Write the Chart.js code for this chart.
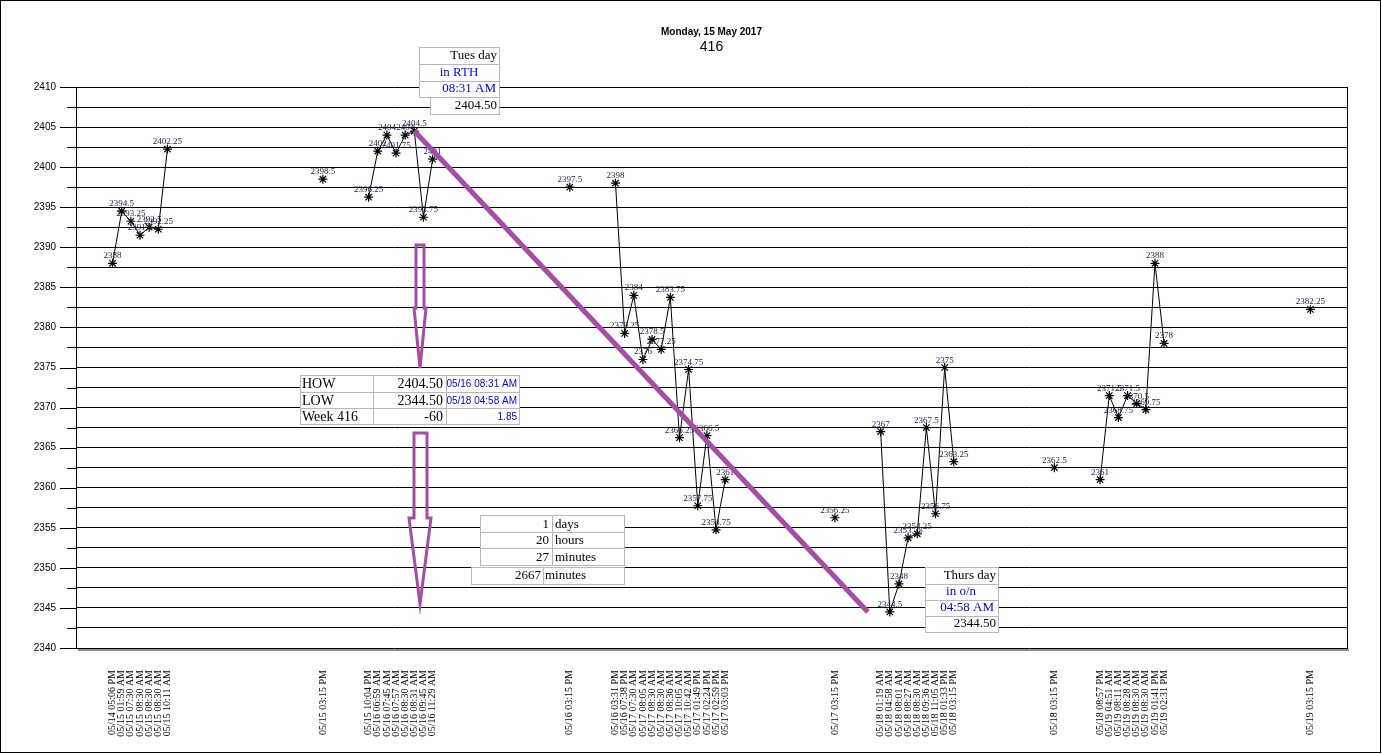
<!DOCTYPE html>
<html>
<head>
<meta charset="utf-8">
<script src="https://cdn.jsdelivr.net/npm/chart.js@4.4.1/dist/chart.umd.min.js"></script>
<style>
html, body { margin: 0; padding: 0; background: #fff; }
canvas { display: block; }
</style>
</head>
<body>
<canvas id="c" width="1382" height="754"></canvas>
<script>
// slot of each point on the x axis (empty slots between the groups)
const slots = [
    4, 5, 6, 7, 8, 9, 10,
    27,
    32, 33, 34, 35, 36, 37, 38, 39,
    54,
    59, 60, 61, 62, 63, 64, 65, 66, 67, 68, 69, 70, 71,
    83,
    88, 89, 90, 91, 92, 93, 94, 95, 96,
    107,
    112, 113, 114, 115, 116, 117, 118, 119,
    135
];

const timeLabels = [
    '05/14 05:06 PM', '05/15 01:59 AM', '05/15 07:30 AM', '05/15 08:30 AM', '05/15 08:30 AM', '05/15 08:30 AM', '05/15 10:11 AM',
    '05/15 03:15 PM',
    '05/15 10:04 PM', '05/16 06:59 AM', '05/16 07:45 AM', '05/16 07:57 AM', '05/16 08:30 AM', '05/16 08:31 AM', '05/16 09:45 AM', '05/16 11:29 AM',
    '05/16 03:15 PM',
    '05/16 03:31 PM', '05/16 07:38 PM', '05/17 07:30 AM', '05/17 08:05 AM', '05/17 08:30 AM', '05/17 08:30 AM', '05/17 08:36 AM',
    '05/17 10:05 AM', '05/17 10:42 AM', '05/17 01:49 PM', '05/17 02:24 PM', '05/17 02:59 PM', '05/17 03:03 PM',
    '05/17 03:15 PM',
    '05/18 01:19 AM', '05/18 04:58 AM', '05/18 08:01 AM', '05/18 08:27 AM', '05/18 08:30 AM', '05/18 09:36 AM', '05/18 11:05 AM', '05/18 01:33 PM', '05/18 03:15 PM',
    '05/18 03:15 PM',
    '05/18 08:57 PM', '05/19 04:51 AM', '05/19 08:11 AM', '05/19 08:28 AM', '05/19 08:30 AM', '05/19 08:30 AM', '05/19 01:41 PM', '05/19 02:31 PM',
    '05/19 03:15 PM'
];

const prices = [
    2388, 2394.5, 2393.25, 2391.5, 2392.5, 2392.25, 2402.25,
    2398.5,
    2396.25, 2402, 2404, 2401.75, 2404, 2404.5, 2393.75, 2401,
    2397.5,
    2398, 2379.25, 2384, 2376, 2378.5, 2377.25, 2383.75, 2366.25, 2374.75, 2357.75, 2366.5, 2354.75, 2361,
    2356.25,
    2367, 2344.5, 2348, 2353.75, 2354.25, 2367.5, 2356.75, 2375, 2363.25,
    2362.5,
    2361, 2371.5, 2368.75, 2371.5, 2370.5, 2369.75, 2388, 2378,
    2382.25
];

// high -> low trend line (slot, price)
const trendFrom = [37, 2404.5];
const trendTo = [86.6, 2344.5];

const SLOT_MAX = 139;
const PURPLE = '#a64ca6';

const labelAt = {};
slots.forEach((s, i) => { labelAt[s] = timeLabels[i]; });

// full slot range with gaps so the groups are not joined
const series = [];
for (let i = 0; i <= SLOT_MAX; i++) {
    const k = slots.indexOf(i);
    series.push({ x: i, y: k >= 0 ? prices[k] : null });
}

function box(c, x1, y1, x2, y2) {
    c.fillStyle = '#fff';
    c.fillRect(x1, y1, x2 - x1, y2 - y1);
    c.strokeStyle = '#b8b8b8';
    c.lineWidth = 1;
    c.strokeRect(x1 + 0.5, y1 + 0.5, x2 - x1, y2 - y1);
}

function txt(c, s, x, y, align, font, color) {
    c.font = font;
    c.fillStyle = color || '#000';
    c.textAlign = align;
    c.textBaseline = 'middle';
    c.fillText(s, x, y);
}

const frame = {
    id: 'frame',
    afterDraw(chart) {
        const c = chart.ctx, a = chart.chartArea, y = chart.scales.y;
        c.save();
        // y tick marks, long on labelled values
        c.strokeStyle = '#000';
        c.lineWidth = 1;
        c.beginPath();
        y.ticks.forEach(t => {
            const py = Math.round(y.getPixelForValue(t.value)) + 0.5;
            const len = t.value % 5 === 0 ? 16 : 9;
            c.moveTo(a.left - len, py);
            c.lineTo(a.left, py);
        });
        c.moveTo(Math.round(a.right) + 0.5, a.top);
        c.lineTo(Math.round(a.right) + 0.5, a.bottom + 1);
        c.stroke();
        // shadow under the plot
        c.strokeStyle = '#909090';
        c.lineWidth = 2;
        c.beginPath();
        c.moveTo(a.left + 2, a.bottom + 2);
        c.lineTo(a.right + 2, a.bottom + 2);
        c.stroke();
        // outer border
        c.strokeStyle = '#000';
        c.lineWidth = 1;
        c.strokeRect(0.5, 0.5, 1380, 752);
        // title
        const cx = (a.left + a.right) / 2;
        txt(c, 'Monday, 15 May 2017', cx, 32, 'center', 'bold 10px "Liberation Sans"');
        txt(c, '416', cx, 47, 'center', '14px "Liberation Sans"');
        c.restore();
    }
};

const valueLabels = {
    id: 'valueLabels',
    afterDatasetsDraw(chart) {
        const c = chart.ctx;
        const meta = chart.getDatasetMeta(0);
        c.save();
        c.font = '9px "Liberation Serif"';
        c.fillStyle = '#1c1c50';
        c.textAlign = 'center';
        c.textBaseline = 'alphabetic';
        meta.data.forEach((pt, i) => {
            const v = series[i].y;
            if (v === null) return;
            c.fillText(String(v), pt.x, pt.y - 5);
        });
        c.restore();
    }
};

const notes = {
    id: 'notes',
    afterDatasetsDraw(chart) {
        const c = chart.ctx, xs = chart.scales.x, ys = chart.scales.y;
        c.save();

        // trend line
        c.strokeStyle = PURPLE;
        c.lineWidth = 5;
        c.lineCap = 'butt';
        c.beginPath();
        c.moveTo(xs.getPixelForValue(trendFrom[0]), ys.getPixelForValue(trendFrom[1]));
        c.lineTo(xs.getPixelForValue(trendTo[0]), ys.getPixelForValue(trendTo[1]));
        c.stroke();

        // hollow arrows
        c.lineWidth = 3;
        c.lineJoin = 'miter';
        c.beginPath();
        c.moveTo(416, 245); c.lineTo(424, 245); c.lineTo(424, 308); c.lineTo(426, 308);
        c.lineTo(420, 368); c.lineTo(414, 308); c.lineTo(416, 308); c.closePath();
        c.stroke();
        c.beginPath();
        c.moveTo(414, 433); c.lineTo(427, 433); c.lineTo(427, 518); c.lineTo(431, 518);
        c.lineTo(420, 604); c.lineTo(409, 518); c.lineTo(414, 518); c.closePath();
        c.stroke();

        const serif13 = '13px "Liberation Serif"';
        const serif14 = '14px "Liberation Serif"';
        const blue = '#0000ff';

        // Tuesday box
        box(c, 419, 47, 499, 64);
        box(c, 419, 64, 499, 81);
        box(c, 419, 81, 499, 97);
        box(c, 430, 97, 499, 114);
        txt(c, 'Tues day', 497, 56, 'right', serif13);
        txt(c, 'in RTH', 459, 73, 'center', serif13, blue);
        txt(c, '08:31 AM', 496, 89, 'right', serif13, blue);
        txt(c, '2404.50', 497, 106, 'right', serif13);

        // Thursday box
        box(c, 925, 567, 998, 584);
        box(c, 925, 584, 998, 600);
        box(c, 925, 600, 998, 616);
        box(c, 925, 616, 998, 632);
        txt(c, 'Thurs day', 996, 576, 'right', serif13);
        txt(c, 'in o/n', 961, 592, 'center', serif13, blue);
        txt(c, '04:58 AM', 994, 608, 'right', serif13, blue);
        txt(c, '2344.50', 996, 624, 'right', serif13);

        // high / low table
        const cols = [300, 373, 446, 519];
        const rows = [375, 392, 408, 424];
        const cells = [
            ['HOW', '2404.50', '05/16 08:31 AM'],
            ['LOW', '2344.50', '05/18 04:58 AM'],
            ['Week 416', '-60', '1.85']
        ];
        for (let r = 0; r < 3; r++) {
            for (let k = 0; k < 3; k++) box(c, cols[k], rows[r], cols[k + 1], rows[r + 1]);
            const my = (rows[r] + rows[r + 1]) / 2 + 1;
            txt(c, cells[r][0], 302, my, 'left', serif14);
            txt(c, cells[r][1], 443, my, 'right', serif14);
            txt(c, cells[r][2], 517, my, 'right', '10px "Liberation Sans"', blue);
        }

        // duration table
        const dur = [['1', 'days'], ['20', 'hours'], ['27', 'minutes']];
        const drows = [515, 532, 548, 565];
        dur.forEach((d, r) => {
            box(c, 480, drows[r], 552, drows[r + 1]);
            box(c, 552, drows[r], 624, drows[r + 1]);
            const my = (drows[r] + drows[r + 1]) / 2 + 1;
            txt(c, d[0], 549, my, 'right', serif13);
            txt(c, d[1], 555, my, 'left', serif13);
        });
        box(c, 471, 567, 543, 584);
        box(c, 543, 567, 624, 584);
        txt(c, '2667', 541, 576, 'right', serif13);
        txt(c, 'minutes', 545, 576, 'left', serif13);

        c.restore();
    }
};

const ctx = document.getElementById('c').getContext('2d');
const chart = new Chart(ctx, {
    type: 'line',
    data: {
        datasets: [{
            data: series,
            borderColor: '#000',
            borderWidth: 1,
            tension: 0,
            spanGaps: false,
            pointStyle: 'star',
            pointRadius: 4.5,
            pointBorderColor: '#000',
            pointBorderWidth: 1.2,
            pointBackgroundColor: '#000'
        }]
    },
    options: {
        responsive: false,
        animation: false,
        layout: { padding: { top: 87, right: 35, left: 0, bottom: 0 } },
        plugins: { legend: { display: false }, tooltip: { enabled: false }, title: { display: false } },
        scales: {
            x: {
                type: 'linear',
                min: 0,
                max: SLOT_MAX,
                grid: { display: false, drawTicks: false },
                border: { display: false },
                afterBuildTicks: s => { s.ticks = slots.map(v => ({ value: v })); },
                afterFit: s => { s.height = 106; },
                ticks: {
                    autoSkip: false,
                    minRotation: 90,
                    maxRotation: 90,
                    padding: 22,
                    color: '#000',
                    font: { family: 'Liberation Serif', size: 10 },
                    callback: v => labelAt[v] || ''
                }
            },
            y: {
                min: 2340,
                max: 2410,
                afterFit: s => { s.width = 76; },
                grid: { color: '#000', lineWidth: 1, drawTicks: false },
                border: { color: '#000', width: 1 },
                ticks: {
                    stepSize: 2.5,
                    padding: 20,
                    color: '#000',
                    font: { family: 'Liberation Sans', size: 10 },
                    callback: v => (v % 5 === 0 ? v : '')
                }
            }
        }
    },
    plugins: [frame, valueLabels, notes]
});
</script>
</body>
</html>
